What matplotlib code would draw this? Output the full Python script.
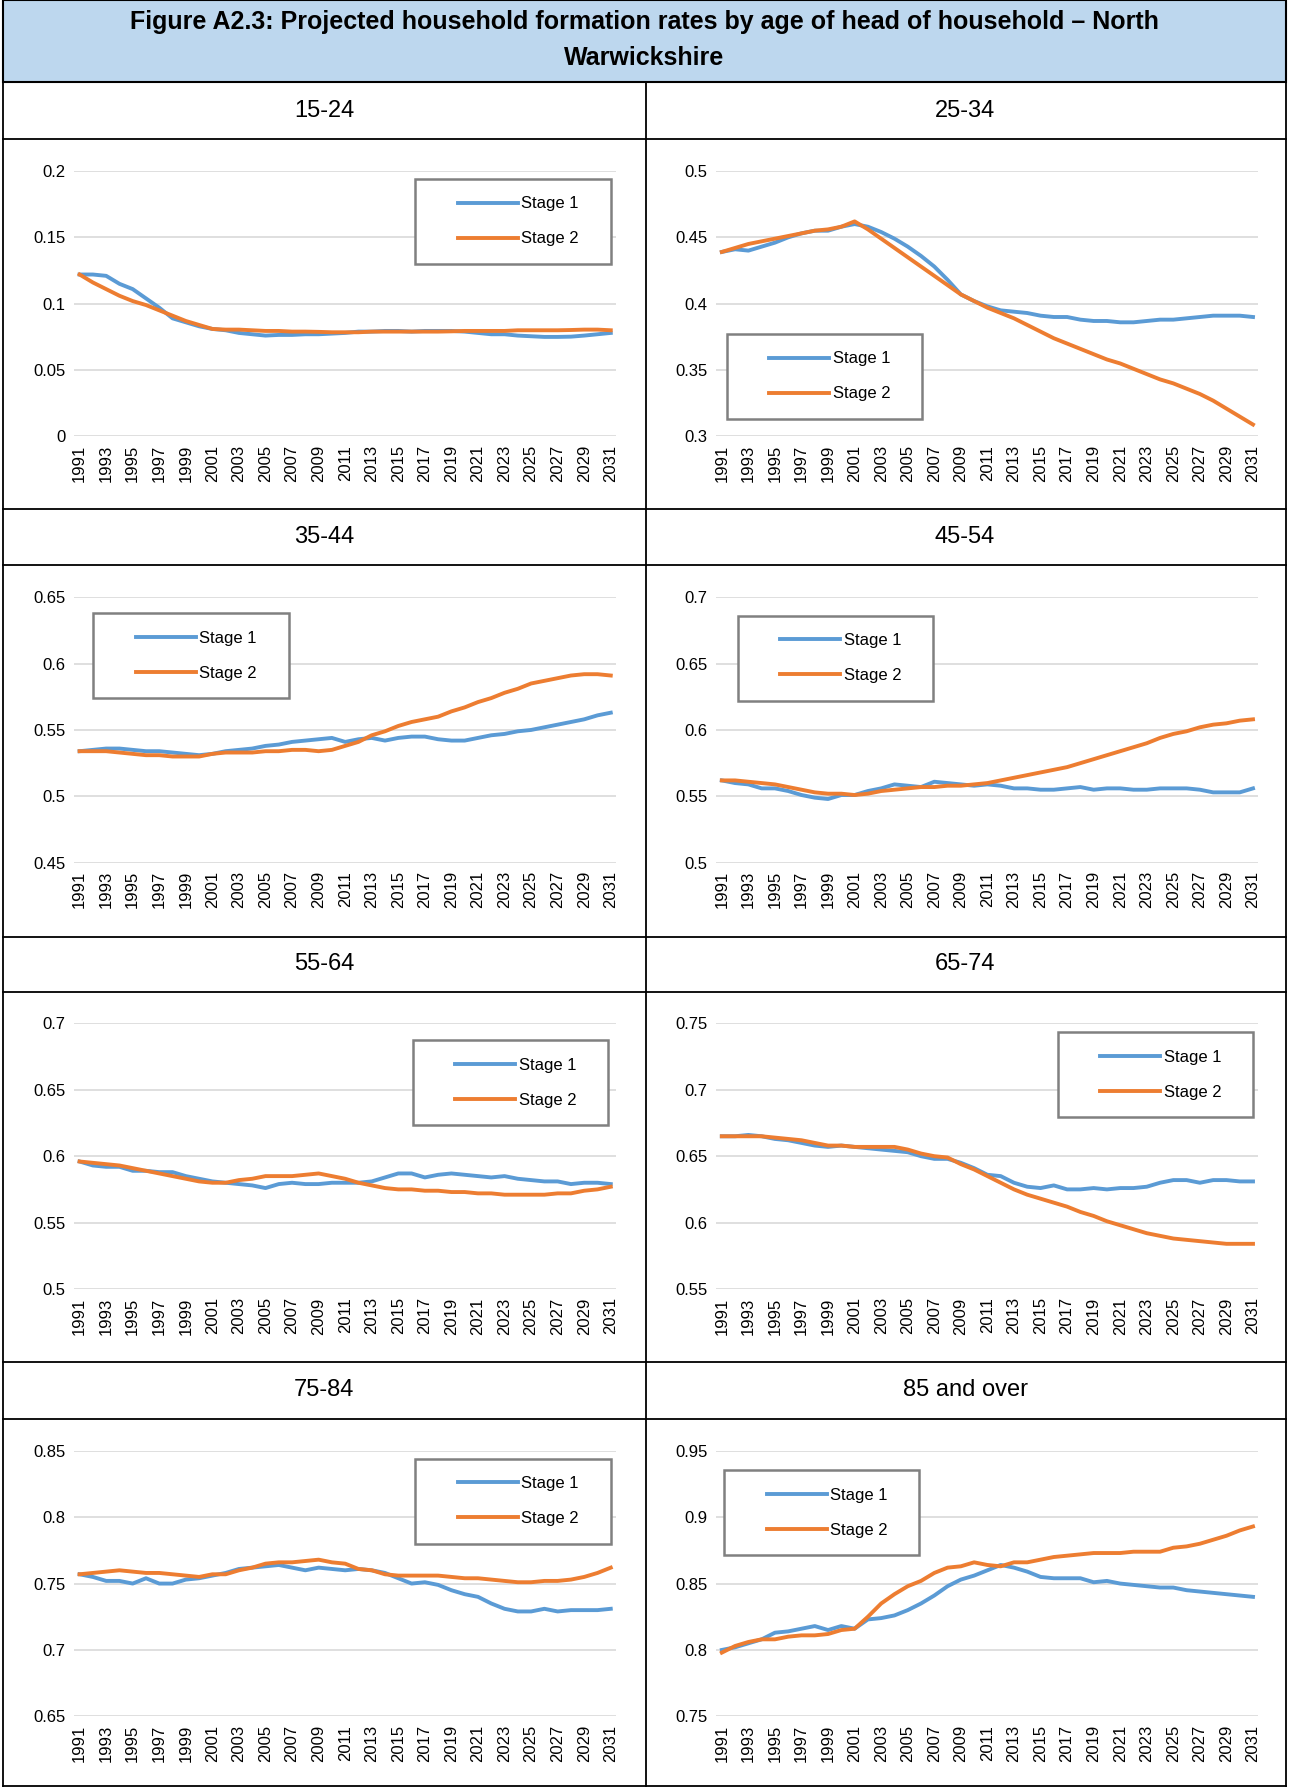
import matplotlib
matplotlib.use("Agg")
import matplotlib.pyplot as plt
import numpy as np

plt.rcParams['font.family'] = ['Liberation Sans', 'DejaVu Sans']

years = np.arange(1991, 2032)

titles = ["15-24", "25-34", "35-44", "45-54", "55-64", "65-74", "75-84", "85 and over"]

s1_1524 = [.122, .122, .121, .115, .111, .104, .097, .089, .086, .083, .081, .080, .078, .077, .076, .0765,
           .0765, .077, .077, .0775, .078, .079, .079, .0795, .0795, .079, .0795, .0795, .0795, .079, .078,
           .077, .077, .076, .0755, .075, .075, .0752, .076, .077, .078]
s2_1524 = [.122, .116, .111, .106, .102, .099, .095, .091, .087, .084, .081, .0805, .0805, .080, .0795, .0795,
           .079, .079, .0788, .0785, .0785, .0785, .079, .079, .079, .079, .079, .079, .0792, .0795, .0795,
           .0795, .0795, .080, .080, .080, .080, .0802, .0805, .0805, .080]

s1_2534 = [.439, .441, .440, .443, .446, .450, .453, .455, .455, .458, .460, .458, .454, .449, .443, .436,
           .428, .418, .407, .402, .398, .395, .394, .393, .391, .390, .390, .388, .387, .387, .386, .386,
           .387, .388, .388, .389, .390, .391, .391, .391, .390]
s2_2534 = [.439, .442, .445, .447, .449, .451, .453, .455, .456, .458, .462, .456, .449, .442, .435, .428,
           .421, .414, .407, .402, .397, .393, .389, .384, .379, .374, .370, .366, .362, .358, .355, .351,
           .347, .343, .340, .336, .332, .327, .321, .315, .309]

s1_3544 = [.534, .535, .536, .536, .535, .534, .534, .533, .532, .531, .532, .534, .535, .536, .538, .539,
           .541, .542, .543, .544, .541, .543, .544, .542, .544, .545, .545, .543, .542, .542, .544, .546,
           .547, .549, .550, .552, .554, .556, .558, .561, .563]
s2_3544 = [.534, .534, .534, .533, .532, .531, .531, .530, .530, .530, .532, .533, .533, .533, .534, .534,
           .535, .535, .534, .535, .538, .541, .546, .549, .553, .556, .558, .560, .564, .567, .571, .574,
           .578, .581, .585, .587, .589, .591, .592, .592, .591]

s1_4554 = [.562, .560, .559, .556, .556, .554, .551, .549, .548, .551, .551, .554, .556, .559, .558, .557,
           .561, .560, .559, .558, .559, .558, .556, .556, .555, .555, .556, .557, .555, .556, .556, .555,
           .555, .556, .556, .556, .555, .553, .553, .553, .556]
s2_4554 = [.562, .562, .561, .560, .559, .557, .555, .553, .552, .552, .551, .552, .554, .555, .556, .557,
           .557, .558, .558, .559, .560, .562, .564, .566, .568, .570, .572, .575, .578, .581, .584, .587,
           .590, .594, .597, .599, .602, .604, .605, .607, .608]

s1_5564 = [.596, .593, .592, .592, .589, .589, .588, .588, .585, .583, .581, .580, .579, .578, .576, .579,
           .580, .579, .579, .580, .580, .580, .581, .584, .587, .587, .584, .586, .587, .586, .585, .584,
           .585, .583, .582, .581, .581, .579, .580, .580, .579]
s2_5564 = [.596, .595, .594, .593, .591, .589, .587, .585, .583, .581, .580, .580, .582, .583, .585, .585,
           .585, .586, .587, .585, .583, .580, .578, .576, .575, .575, .574, .574, .573, .573, .572, .572,
           .571, .571, .571, .571, .572, .572, .574, .575, .577]

s1_6574 = [.665, .665, .666, .665, .663, .662, .660, .658, .657, .658, .657, .656, .655, .654, .653, .650,
           .648, .648, .645, .641, .636, .635, .630, .627, .626, .628, .625, .625, .626, .625, .626, .626,
           .627, .630, .632, .632, .630, .632, .632, .631, .631]
s2_6574 = [.665, .665, .665, .665, .664, .663, .662, .660, .658, .658, .657, .657, .657, .657, .655, .652,
           .650, .649, .644, .640, .635, .630, .625, .621, .618, .615, .612, .608, .605, .601, .598, .595,
           .592, .590, .588, .587, .586, .585, .584, .584, .584]

s1_7584 = [.757, .755, .752, .752, .750, .754, .750, .750, .753, .754, .756, .758, .761, .762, .763, .764,
           .762, .760, .762, .761, .760, .761, .760, .758, .754, .750, .751, .749, .745, .742, .740, .735,
           .731, .729, .729, .731, .729, .730, .730, .730, .731]
s2_7584 = [.757, .758, .759, .760, .759, .758, .758, .757, .756, .755, .757, .757, .760, .762, .765, .766,
           .766, .767, .768, .766, .765, .761, .760, .757, .756, .756, .756, .756, .755, .754, .754, .753,
           .752, .751, .751, .752, .752, .753, .755, .758, .762]

s1_85 = [.800, .802, .805, .808, .813, .814, .816, .818, .815, .818, .816, .823, .824, .826, .830, .835,
         .841, .848, .853, .856, .860, .864, .862, .859, .855, .854, .854, .854, .851, .852, .850, .849,
         .848, .847, .847, .845, .844, .843, .842, .841, .840]
s2_85 = [.798, .803, .806, .808, .808, .810, .811, .811, .812, .815, .816, .825, .835, .842, .848, .852,
         .858, .862, .863, .866, .864, .863, .866, .866, .868, .870, .871, .872, .873, .873, .873, .874,
         .874, .874, .877, .878, .880, .883, .886, .890, .893]

stage1 = [s1_1524, s1_2534, s1_3544, s1_4554, s1_5564, s1_6574, s1_7584, s1_85]
stage2 = [s2_1524, s2_2534, s2_3544, s2_4554, s2_5564, s2_6574, s2_7584, s2_85]
ylims = [(0, 0.2), (0.3, 0.5), (0.45, 0.65), (0.5, 0.7), (0.5, 0.7), (0.55, 0.75), (0.65, 0.85), (0.75, 0.95)]
ytick_labels = [["0", "0.05", "0.1", "0.15", "0.2"], ["0.3", "0.35", "0.4", "0.45", "0.5"],
                ["0.45", "0.5", "0.55", "0.6", "0.65"], ["0.5", "0.55", "0.6", "0.65", "0.7"],
                ["0.5", "0.55", "0.6", "0.65", "0.7"], ["0.55", "0.6", "0.65", "0.7", "0.75"],
                ["0.65", "0.7", "0.75", "0.8", "0.85"], ["0.75", "0.8", "0.85", "0.9", "0.95"]]
legend_pos = [(0.63, 0.97), (0.02, 0.386), (0.036, 0.94), (0.04, 0.93),
              (0.625, 0.936), (0.63, 0.966), (0.63, 0.97), (0.015, 0.927)]

W, H = 1134.0, 1568.0
fig = plt.figure(figsize=(12.89, 17.87), dpi=100)

def fx(x):
    return x / W

def fy(y):
    return 1 - y / H

# title band
fig.patches.append(plt.Rectangle((fx(3), fy(72)), fx(1128), 72 / H, transform=fig.transFigure,
                                 facecolor="#BDD7EE", edgecolor="black", lw=1.5))
fig.text(0.5, fy(19), "Figure A2.3: Projected household formation rates by age of head of household \u2013 North",
         ha="center", va="center", fontsize=18, fontweight="bold")
fig.text(0.5, fy(51), "Warwickshire", ha="center", va="center", fontsize=18, fontweight="bold")

row_tops = [72, 447, 822, 1195]
row_head = [122, 496, 870, 1245]
for y in row_tops + row_head + [1567]:
    fig.add_artist(plt.Line2D([fx(3), fx(1131)], [fy(y), fy(y)], color="black", lw=1.3))
for x in [3, 568, 1131]:
    fig.add_artist(plt.Line2D([fx(x), fx(x)], [fy(72), fy(1568)], color="black", lw=1.3))

blue = "#5B9BD5"
orange = "#ED7D31"
box_w, box_h = 0.36, 0.32
for i in range(8):
    r, c = divmod(i, 2)
    x0 = 65 if c == 0 else 630
    cx = 285 if c == 0 else 849
    fig.text(fx(cx), fy((row_tops[r] + row_head[r]) / 2), titles[i], ha="center", va="center", fontsize=17)
    ytop = row_head[r] + 28
    ybot = ytop + 233
    ax = fig.add_axes([fx(x0), fy(ybot), fx(477), 233 / H])
    ax.plot(years, stage1[i], color=blue, lw=2.8, label="Stage 1")
    ax.plot(years, stage2[i], color=orange, lw=2.8, label="Stage 2")
    lo, hi = ylims[i]
    ax.set_ylim(lo, hi)
    ax.set_xlim(1990.57, 2031.4)
    ax.set_yticks(np.linspace(lo, hi, 5))
    ax.set_yticklabels(ytick_labels[i], fontsize=12)
    ax.set_xticks(years[::2])
    ax.set_xticklabels([str(y) for y in years[::2]], rotation=90, fontsize=12)
    ax.grid(axis="y", color="#D9D9D9", lw=1.2)
    ax.set_axisbelow(True)
    for s in ax.spines.values():
        s.set_visible(False)
    ax.tick_params(length=0, pad=6)
    lx, ly = legend_pos[i]
    ax.add_patch(plt.Rectangle((lx, ly - box_h), box_w, box_h, transform=ax.transAxes,
                               facecolor="white", edgecolor="#808080", lw=1.8, zorder=5))
    leg = ax.legend(loc="center", bbox_to_anchor=(lx + box_w / 2 + 0.01, ly - box_h / 2), fontsize=12,
                    frameon=False, handlelength=3.6, labelspacing=1.2, handletextpad=0.2)
    leg.set_zorder(6)

fig.savefig("out.png", dpi=100)
